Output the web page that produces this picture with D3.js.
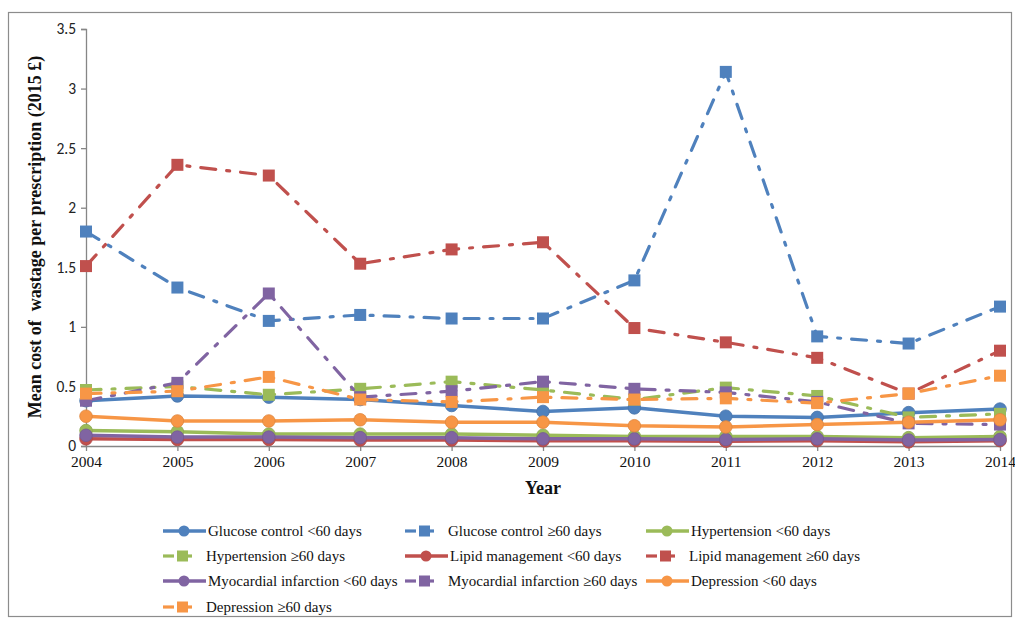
<!DOCTYPE html>
<html><head><meta charset="utf-8">
<script src="https://cdn.jsdelivr.net/npm/d3@7"></script>
<style>body{margin:0;background:#fff}svg{display:block}</style>
</head><body>
<svg id="c" width="1015" height="622"></svg>
<script>
const years = [2004,2005,2006,2007,2008,2009,2010,2011,2012,2013,2014];
const yTicks = [0,0.5,1,1.5,2,2.5,3,3.5];
const yTickLabels = ["0","0.5","1","1.5","2","2.5","3","3.5"];

const glucoseLt60   = [0.38,0.42,0.41,0.39,0.34,0.29,0.32,0.25,0.24,0.28,0.31];
const glucoseGe60   = [1.80,1.33,1.05,1.10,1.07,1.07,1.39,3.14,0.92,0.86,1.17];
const hyperLt60     = [0.13,0.12,0.10,0.10,0.10,0.09,0.08,0.08,0.08,0.07,0.08];
const hyperGe60     = [0.47,0.50,0.43,0.48,0.54,0.47,0.39,0.49,0.42,0.24,0.27];
const lipidLt60     = [0.06,0.055,0.055,0.05,0.05,0.045,0.045,0.04,0.045,0.035,0.045];
const lipidGe60     = [1.51,2.36,2.27,1.53,1.65,1.71,0.99,0.87,0.74,0.44,0.80];
const miLt60        = [0.09,0.075,0.075,0.07,0.07,0.06,0.06,0.055,0.06,0.05,0.055];
const miGe60        = [0.38,0.53,1.28,0.41,0.46,0.54,0.48,0.45,0.37,0.19,0.18];
const depLt60       = [0.25,0.21,0.21,0.22,0.20,0.20,0.17,0.16,0.18,0.20,0.22];
const depGe60       = [0.44,0.46,0.58,0.39,0.37,0.41,0.39,0.40,0.36,0.44,0.59];

const seriesNames = ["Glucose control <60 days","Glucose control \u226560 days","Hypertension <60 days",
  "Hypertension \u226560 days","Lipid management <60 days","Lipid management \u226560 days",
  "Myocardial infarction <60 days","Myocardial infarction \u226560 days","Depression <60 days",
  "Depression \u226560 days"];
const seriesValues = [glucoseLt60,glucoseGe60,hyperLt60,hyperGe60,lipidLt60,lipidGe60,miLt60,miGe60,depLt60,depGe60];
const seriesColors = ["#4F81BD","#4F81BD","#9BBB59","#9BBB59","#C0504D","#C0504D","#8064A2","#8064A2","#F79646","#F79646"];

const svg = d3.select("#c");
const serif = "'Liberation Serif','Times New Roman',serif";
const sans = "Carlito,'Open Sans','Liberation Sans',sans-serif";

svg.append("rect").attr("x",8.5).attr("y",12.5).attr("width",1003).attr("height",604)
  .attr("fill","none").attr("stroke","#8c8c8c").attr("stroke-width",1.2);

const x = d3.scaleLinear().domain([2004,2014]).range([86,1000]);
const y = d3.scaleLinear().domain([0,3.5]).range([446,29]);

const yAxis = svg.append("g").attr("transform","translate(86,0)")
  .call(d3.axisLeft(y).tickValues(yTicks).tickFormat((d,i)=>yTickLabels[i]).tickSize(5).tickPadding(5));
yAxis.select(".domain").attr("stroke","#868686").attr("stroke-width",1.3);
yAxis.selectAll(".tick line").attr("stroke","#868686").attr("stroke-width",1.3);
yAxis.selectAll("text").attr("font-family",sans).attr("font-size",15.5).attr("fill","#222");

const xAxis = svg.append("g").attr("transform","translate(0,446)")
  .call(d3.axisBottom(x).tickValues(years).tickFormat(d3.format("d")).tickSize(5).tickSizeOuter(0).tickPadding(5));
xAxis.select(".domain").attr("stroke","#868686").attr("stroke-width",1.3);
xAxis.selectAll(".tick line").attr("stroke","#868686").attr("stroke-width",1.3);
xAxis.selectAll("text").attr("font-family",serif).attr("font-size",15.5).attr("fill","#111");

svg.append("text").attr("transform","translate(41,237) rotate(-90)").attr("text-anchor","middle")
  .attr("font-family",serif).attr("font-weight","bold").attr("font-size",18).attr("fill","#111")
  .attr("xml:space","preserve").text("Mean cost of  wastage per prescription (2015 \u00a3)");
svg.append("text").attr("x",543).attr("y",494).attr("text-anchor","middle")
  .attr("font-family",serif).attr("font-weight","bold").attr("font-size",18).attr("fill","#111").text("Year");

const dash = "15,11,3,11";
const line = d3.line().x((d,i)=>x(years[i])).y(d=>y(d));
const plot = svg.append("g");
seriesValues.forEach((vals,si)=>{
  const ge = si%2===1;
  const col = seriesColors[si];
  const g = plot.append("g");
  g.append("path").datum(vals).attr("d",line).attr("fill","none").attr("stroke",col)
    .attr("stroke-width",ge?3.2:3.5).attr("stroke-dasharray",ge?dash:null)
    .attr("stroke-linecap",ge?"round":"butt");
  if(ge){
    g.selectAll("rect").data(vals).join("rect")
      .attr("x",(d,i)=>x(years[i])-6).attr("y",d=>y(d)-6).attr("width",12).attr("height",12).attr("fill",col);
  } else {
    g.selectAll("circle").data(vals).join("circle")
      .attr("cx",(d,i)=>x(years[i])).attr("cy",d=>y(d)).attr("r",6.3).attr("fill",col)
      .attr("stroke",d3.color(col).darker(0.3)).attr("stroke-width",0.8);
  }
});

// legend
const legX = [163,405,646];
const legY = [531,556,581,607];
const leg = svg.append("g");
seriesNames.forEach((name,si)=>{
  const col = seriesColors[si];
  const ge = si%2===1;
  const lx = legX[si%3], ly = legY[Math.floor(si/3)];
  const g = leg.append("g");
  if(ge){
    g.append("line").attr("x1",lx).attr("x2",lx+11).attr("y1",ly).attr("y2",ly).attr("stroke",col).attr("stroke-width",3.2);
    g.append("rect").attr("x",lx+14).attr("y",ly-5.5).attr("width",11).attr("height",11).attr("fill",col);
    g.append("line").attr("x1",lx+25).attr("x2",lx+29).attr("y1",ly).attr("y2",ly).attr("stroke",col).attr("stroke-width",3.2);
  } else {
    g.append("line").attr("x1",lx).attr("x2",lx+43).attr("y1",ly).attr("y2",ly).attr("stroke",col).attr("stroke-width",3.5);
    g.append("circle").attr("cx",lx+21).attr("cy",ly).attr("r",5.5).attr("fill",col);
  }
  g.append("text").attr("x",lx+(ge?43:45)).attr("y",ly+5).attr("font-family",serif).attr("font-size",15)
    .attr("fill","#111").text(name);
});
</script>
</body></html>
